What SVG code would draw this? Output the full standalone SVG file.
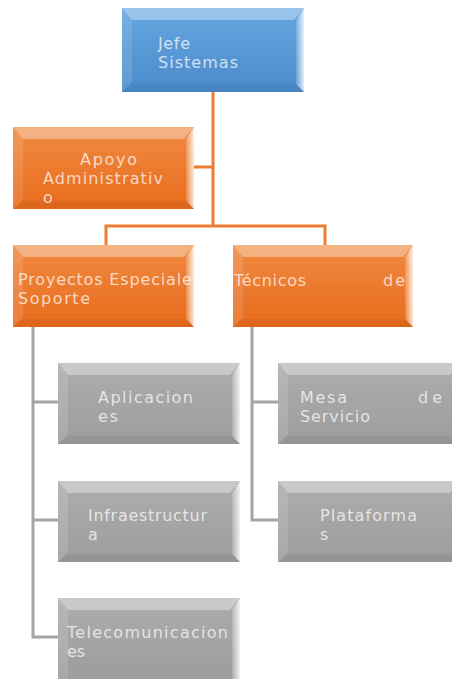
<svg xmlns="http://www.w3.org/2000/svg" width="452" height="679" viewBox="0 0 452 679">
<defs>
<linearGradient id="gBlue" x1="0" y1="0" x2="0" y2="1"><stop offset="0" stop-color="#66a6e0"/><stop offset="1" stop-color="#4b8bcb"/></linearGradient>
<linearGradient id="gOrange" x1="0" y1="0" x2="0" y2="1"><stop offset="0" stop-color="#f08a42"/><stop offset="1" stop-color="#e86c1c"/></linearGradient>
<linearGradient id="gGray" x1="0" y1="0" x2="0" y2="1"><stop offset="0" stop-color="#adadad"/><stop offset="1" stop-color="#9d9d9d"/></linearGradient>
<linearGradient id="gRight" x1="0" y1="0" x2="1" y2="0"><stop offset="0" stop-color="#fff" stop-opacity="0.15"/><stop offset="1" stop-color="#fff" stop-opacity="0.85"/></linearGradient>
<clipPath id="clipProy"><rect x="13" y="245" width="181" height="82"/></clipPath>
</defs>
<style>
.conO{fill:none;stroke:#ed7d31;stroke-width:3}
.conG{fill:none;stroke:#a5a5a5;stroke-width:3}
.bt{fill:#fff;fill-opacity:0.35}
.bl{fill:#fff;fill-opacity:0.12}
.br{fill:url(#gRight)}
.bb{fill:#000;fill-opacity:0.05}
text{font-family:"DejaVu Sans","Noto Sans",sans-serif;font-size:16px;fill:#fff;fill-opacity:0.72}
</style>
<g id="connectors">
<path class="conO" d="M213,92 V226 M213,167 H194 M106,245 V226 H325 V245"/>
<path class="conG" d="M33,327 V637 H58 M33,402 H58 M33,520 H58"/>
<path class="conG" d="M252,327 V520 H278 M252,402 H278"/>
</g>
<g id="jefe">
<rect x="122" y="8" width="182" height="84" fill="url(#gBlue)"/>
<polygon class="bt" points="122,8 304,8 294,20 132,20"/>
<polygon class="bl" points="122,8 132,20 132,82 122,92"/>
<polygon class="br" points="304,8 304,92 296,84 296,20"/>
<polygon class="bb" points="122,92 132,84 296,84 304,92"/>
<text x="158" y="49" textLength="32" lengthAdjust="spacing">Jefe</text>
<text x="158" y="68" textLength="80" lengthAdjust="spacing">Sistemas</text>
</g>
<g id="apoyo">
<rect x="13" y="127" width="181" height="82" fill="url(#gOrange)"/>
<polygon class="bt" points="13,127 194,127 184,139 23,139"/>
<polygon class="bl" points="13,127 23,139 23,199 13,209"/>
<polygon class="br" points="194,127 194,209 186,201 186,139"/>
<polygon class="bb" points="13,209 23,201 186,201 194,209"/>
<text x="80" y="165" textLength="57" lengthAdjust="spacing">Apoyo</text>
<text x="43" y="184" textLength="120" lengthAdjust="spacing">Administrativ</text>
<text x="43" y="203">o</text>
</g>
<g id="proyectos">
<rect x="13" y="245" width="181" height="82" fill="url(#gOrange)"/>
<polygon class="bt" points="13,245 194,245 184,257 23,257"/>
<polygon class="bl" points="13,245 23,257 23,317 13,327"/>
<polygon class="br" points="194,245 194,327 186,319 186,257"/>
<polygon class="bb" points="13,327 23,319 186,319 194,327"/>
<g clip-path="url(#clipProy)"><text x="18" y="285" textLength="183" lengthAdjust="spacing">Proyectos Especiales</text></g>
<text x="18" y="304" textLength="72" lengthAdjust="spacing">Soporte</text>
</g>
<g id="tecnicos">
<rect x="233" y="245" width="180" height="82" fill="url(#gOrange)"/>
<polygon class="bt" points="233,245 413,245 403,257 243,257"/>
<polygon class="bl" points="233,245 243,257 243,317 233,327"/>
<polygon class="br" points="413,245 413,327 405,319 405,257"/>
<polygon class="bb" points="233,327 243,319 405,319 413,327"/>
<text x="234" y="286" textLength="72" lengthAdjust="spacing">Técnicos</text>
<text x="383" y="286" textLength="22" lengthAdjust="spacing">de</text>
</g>
<g id="aplicaciones">
<rect x="58" y="363" width="182" height="81" fill="url(#gGray)"/>
<polygon class="bt" points="58,363 240,363 230,375 68,375"/>
<polygon class="bl" points="58,363 68,375 68,434 58,444"/>
<polygon class="br" points="240,363 240,444 232,436 232,375"/>
<polygon class="bb" points="58,444 68,436 232,436 240,444"/>
<text x="98" y="403" textLength="95" lengthAdjust="spacing">Aplicacion</text>
<text x="98" y="422" textLength="20" lengthAdjust="spacing">es</text>
</g>
<g id="mesa">
<rect x="278" y="363" width="182" height="81" fill="url(#gGray)"/>
<polygon class="bt" points="278,363 460,363 450,375 288,375"/>
<polygon class="bl" points="278,363 288,375 288,434 278,444"/>
<polygon class="bb" points="278,444 288,436 452,436 460,444"/>
<text x="300" y="403" textLength="47" lengthAdjust="spacing">Mesa</text>
<text x="418" y="403" textLength="24" lengthAdjust="spacing">de</text>
<text x="300" y="422" textLength="70" lengthAdjust="spacing">Servicio</text>
</g>
<g id="infraestructura">
<rect x="58" y="481" width="182" height="81" fill="url(#gGray)"/>
<polygon class="bt" points="58,481 240,481 230,493 68,493"/>
<polygon class="bl" points="58,481 68,493 68,552 58,562"/>
<polygon class="br" points="240,481 240,562 232,554 232,493"/>
<polygon class="bb" points="58,562 68,554 232,554 240,562"/>
<text x="88" y="521" textLength="119" lengthAdjust="spacing">Infraestructur</text>
<text x="88" y="540">a</text>
</g>
<g id="plataformas">
<rect x="278" y="481" width="182" height="81" fill="url(#gGray)"/>
<polygon class="bt" points="278,481 460,481 450,493 288,493"/>
<polygon class="bl" points="278,481 288,493 288,552 278,562"/>
<polygon class="bb" points="278,562 288,554 452,554 460,562"/>
<text x="320" y="521" textLength="97" lengthAdjust="spacing">Plataforma</text>
<text x="320" y="540">s</text>
</g>
<g id="telecomunicaciones">
<rect x="58" y="598" width="182" height="81" fill="url(#gGray)"/>
<polygon class="bt" points="58,598 240,598 230,610 68,610"/>
<polygon class="bl" points="58,598 68,610 68,679 58,679"/>
<polygon class="br" points="240,598 240,679 232,679 232,610"/>
<text x="67" y="638" textLength="161" lengthAdjust="spacing">Telecomunicacion</text>
<text x="67" y="657" textLength="18" lengthAdjust="spacing">es</text>
</g>
</svg>
